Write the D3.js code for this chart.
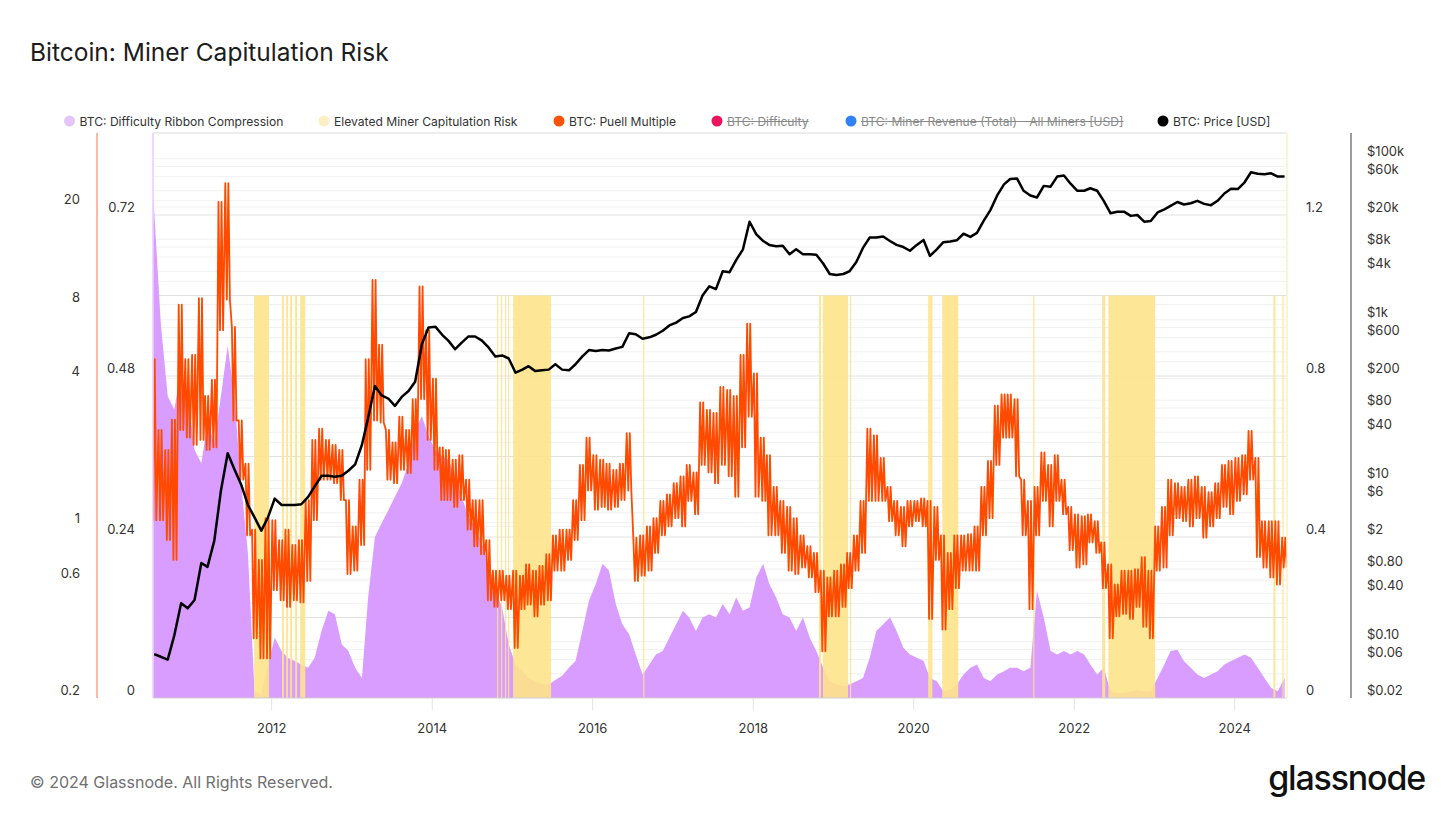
<!DOCTYPE html>
<html><head><meta charset="utf-8">
<script src="https://cdn.jsdelivr.net/npm/d3@7"></script>
<style>
body{margin:0;background:#fff;}
svg{display:block;font-family:Inter,"Noto Sans",sans-serif;}
</style>
</head><body>
<svg id="c" width="1456" height="819"></svg>
<script>
// ---------- DATA (monthly, Jul 2010 .. Aug 2024) ----------
const firstMonth = "2010-07-01";
const lastMonth = "2024-08-01";

const ribbonCompression = [
0.75,0.556,0.45,0.43,0.49,0.45,0.37,0.35,0.41,0.38,
0.45,0.525,0.45,0.32,0.216,0.01,0.005,0.05,0.09,0.07,
0.06,0.055,0.05,0.045,0.06,0.10,0.13,0.125,0.08,0.07,
0.045,0.03,0.15,0.24,0.26,0.28,0.30,0.32,0.35,0.40,
0.42,0.39,0.37,0.36,0.355,0.33,0.30,0.27,0.255,0.23,
0.20,0.16,0.135,0.08,0.05,0.04,0.03,0.025,0.02,0.02,
0.027,0.033,0.045,0.055,0.10,0.145,0.17,0.20,0.19,0.14,
0.11,0.095,0.065,0.035,0.05,0.065,0.07,0.09,0.11,0.13,
0.12,0.10,0.12,0.125,0.12,0.14,0.125,0.15,0.13,0.135,
0.18,0.20,0.17,0.15,0.125,0.12,0.10,0.12,0.09,0.07,
0.045,0.025,0.02,0.018,0.02,0.025,0.03,0.06,0.10,0.11,
0.12,0.10,0.075,0.065,0.06,0.055,0.03,0.025,0.01,0.012,
0.02,0.035,0.045,0.05,0.03,0.025,0.035,0.04,0.045,0.045,
0.04,0.045,0.16,0.12,0.07,0.065,0.07,0.065,0.07,0.065,
0.05,0.035,0.045,0.01,0.008,0.008,0.01,0.012,0.01,0.01,
0.03,0.05,0.07,0.072,0.055,0.045,0.035,0.03,0.035,0.04,
0.05,0.055,0.06,0.065,0.06,0.045,0.03,0.015,0.01,0.03];

// Puell Multiple: monthly high / low of the daily series
const puellHigh = [
4.8,2.47,2.05,2.72,8.0,4.8,5.0,8.5,3.4,3.96,
21,25,6.5,2.7,1.8,0.97,0.73,1.08,1.06,0.88,
0.97,0.84,0.88,1.28,2.25,2.5,2.25,2.15,2.05,1.28,
1.0,1.55,4.8,10.1,5.5,2.47,2.2,2.8,2.47,3.3,
9.5,6.3,4.0,2.1,2.05,1.87,1.95,1.55,1.28,1.28,
0.88,0.66,0.66,0.63,0.66,0.63,0.70,0.66,0.69,0.77,
0.92,0.97,0.97,1.28,1.78,2.3,1.95,1.87,1.8,1.7,
1.8,2.4,0.9,0.92,1.0,1.08,1.27,1.35,1.5,1.6,
1.78,1.66,3.2,2.98,2.9,3.7,3.6,3.4,5.0,6.7,
4.2,2.3,1.95,1.45,1.27,1.2,1.08,0.92,0.83,0.78,
0.66,0.62,0.66,0.7,0.78,0.92,1.27,2.5,2.35,1.9,
1.45,1.27,1.2,1.27,1.27,1.3,1.27,1.2,0.92,0.78,
0.92,0.92,0.93,1.0,1.45,1.85,3.1,3.45,3.45,3.3,
1.55,1.27,1.45,2.0,1.78,1.95,1.55,1.2,1.12,1.1,
1.12,1.05,0.86,0.7,0.58,0.66,0.66,0.67,0.75,0.66,
1.0,1.2,1.55,1.5,1.45,1.55,1.6,1.45,1.38,1.5,
1.78,1.85,1.9,1.95,2.45,1.9,1.05,1.05,1.05,0.9];
const puellLow = [
1.06,1.06,0.88,0.73,2.47,2.3,2.15,2.25,2.05,2.1,
6.3,8.4,2.7,1.55,0.92,0.35,0.29,0.29,0.55,0.50,
0.47,0.50,0.49,0.60,1.06,1.55,1.55,1.5,1.28,0.64,
0.66,0.84,1.7,2.7,2.65,1.55,1.5,1.7,1.65,1.87,
3.3,2.25,1.7,1.28,1.28,1.2,1.28,0.97,0.83,0.77,
0.50,0.47,0.50,0.46,0.32,0.46,0.48,0.43,0.48,0.50,
0.66,0.66,0.73,0.88,1.06,1.4,1.17,1.2,1.17,1.2,
1.28,1.4,0.6,0.63,0.66,0.78,0.92,1.0,1.08,1.0,
1.27,1.12,1.78,1.66,1.5,1.78,1.6,1.32,2.1,2.8,
1.32,1.27,0.92,0.92,0.78,0.66,0.64,0.68,0.62,0.54,
0.31,0.43,0.43,0.47,0.56,0.66,0.78,1.27,1.27,1.27,
1.05,0.92,0.83,1.0,1.05,1.0,0.42,0.73,0.38,0.46,
0.56,0.66,0.66,0.66,0.92,1.08,1.78,2.3,2.3,1.6,
0.92,0.46,0.92,1.27,1.0,1.27,1.12,0.8,0.68,0.7,
0.86,0.78,0.56,0.35,0.43,0.44,0.42,0.47,0.39,0.35,
0.66,0.68,0.92,1.08,1.05,1.0,1.08,0.9,1.0,1.08,
1.2,1.12,1.27,1.35,1.55,0.75,0.68,0.62,0.58,0.68];

const priceUSD = [
0.07,0.065,0.06,0.12,0.30,0.26,0.33,0.95,0.85,1.8,
7.5,22,14,9,5,3.5,2.4,3.5,6.0,5.0,
5.0,5.0,5.1,6.3,8.5,11.5,11.5,11.2,11.5,13.3,
16,28,60,150,115,105,85,110,130,170,
500,800,820,650,550,430,520,620,620,550,
450,350,360,330,220,240,265,230,235,240,
280,240,235,280,350,420,410,420,415,440,
460,680,660,580,605,650,730,850,920,1050,
1100,1250,2000,2600,2400,4000,3900,5500,7500,16500,
11500,9500,8500,8200,8300,6500,7500,6500,6500,6400,
5000,3700,3600,3700,4000,5200,7800,10500,10500,10800,
9500,8500,8000,7200,8500,9800,6200,7500,9200,9400,
9700,11700,10700,12000,17000,23000,35000,48000,56000,57000,
40000,35000,33000,46000,45000,60000,62000,49000,40000,40000,
43000,40000,30000,21000,22000,22000,19500,20000,16500,16800,
21500,23500,26000,29000,27000,28000,30000,27500,26500,30000,
37000,42500,42000,51000,68000,65000,64000,66000,60000,60000];

// Elevated Miner Capitulation Risk periods (flag = 1)
const capStart = ["2011-10-13","2012-02-17","2012-03-07","2012-03-25","2012-04-17","2012-05-10",
  "2014-10-23","2014-11-10","2014-11-28","2014-12-12","2015-01-04","2016-08-18",
  "2018-10-27","2018-11-14","2019-03-17","2020-03-07","2020-05-10","2021-06-28",
  "2022-05-08","2022-06-05","2024-06-25","2024-08-05"];
const capEnd = ["2011-12-20","2012-02-26","2012-03-16","2012-04-03","2012-04-26","2012-06-02",
  "2014-10-27","2014-11-14","2014-12-03","2014-12-16","2015-06-26","2016-08-22",
  "2018-11-05","2019-03-08","2019-03-22","2020-03-26","2020-07-22","2021-07-02",
  "2022-05-22","2023-01-04","2024-07-04","2024-08-09"];

const xTickYears = [2012,2014,2016,2018,2020,2022,2024];
const puellTicks = [0.2,0.6,1,4,8,20];
const ribbonTicks = [0,0.24,0.48,0.72];
const capTicks = [0,0.4,0.8,1.2];
const priceTicks = [0.02,0.06,0.1,0.4,0.8,2,6,10,40,80,200,600,1000,4000,8000,20000,60000,100000];
const priceTickLabels = ["$0.02","$0.06","$0.10","$0.40","$0.80","$2","$6","$10","$40","$80","$200","$600","$1k","$4k","$8k","$20k","$60k","$100k"];

const legendNames = ["BTC: Difficulty Ribbon Compression","Elevated Miner Capitulation Risk","BTC: Puell Multiple","BTC: Difficulty","BTC: Miner Revenue (Total) - All Miners [USD]","BTC: Price [USD]"];
const legendColors = ["#e6c5fb","#fcefc3","#ff5207","#e8175d","#3182f6","#000000"];
const legendHidden = [false,false,false,true,true,false];

// ---------- LAYOUT ----------
const svg = d3.select("#c");
const L = 153, R = 1287, T = 133, B = 698;
const parse = d3.utcParse("%Y-%m-%d");
const months = d3.utcMonth.range(parse(firstMonth), d3.utcMonth.offset(parse(lastMonth),1));

const x = d3.scaleUtc().domain([Date.UTC(2010,6,10), Date.UTC(2024,7,26)]).range([L,R]);
const yPuell = d3.scaleLog().domain([0.2,20]).range([B,207]);
const yRib = d3.scaleLinear().domain([0,0.72]).range([B,215]);
const yCap = d3.scaleLinear().domain([0,1.2]).range([B,215]);
const yPrice = d3.scaleLog().domain([0.02,20000]).range([B,215]);

// title
svg.append("text").attr("x",30).attr("y",61).attr("font-size",24.5).attr("fill","#1c1c1c")
  .text("Bitcoin: Miner Capitulation Risk");

// grid
const g = svg.append("g");
const faint = [];
for (let k=-2;k<=5;k++) [1,3,4,6,8].forEach(m=>{const v=m*Math.pow(10,k); if(v>0.02&&v<180000) faint.push(v);});
g.selectAll(".gf").data(faint).enter().append("line")
  .attr("x1",L).attr("x2",R).attr("y1",d=>yPrice(d)).attr("y2",d=>yPrice(d))
  .attr("stroke","#f1f1f1").attr("stroke-width",1);
g.selectAll(".gp").data(puellTicks.slice(1)).enter().append("line")
  .attr("x1",L).attr("x2",R).attr("y1",d=>yPuell(d)).attr("y2",d=>yPuell(d))
  .attr("stroke","#f1f1f1").attr("stroke-width",1);
const strong = [0.12,0.24,0.36,0.48,0.6,0.72];
g.selectAll(".gs").data(strong).enter().append("line")
  .attr("x1",L).attr("x2",R).attr("y1",d=>yRib(d)).attr("y2",d=>yRib(d))
  .attr("stroke","#e2e2e2").attr("stroke-width",1);
g.append("line").attr("x1",L).attr("x2",R).attr("y1",T).attr("y2",T).attr("stroke","#dcdcdc");

// clip
svg.append("clipPath").attr("id","clip").append("rect").attr("x",L).attr("y",T).attr("width",R-L).attr("height",B-T);
const plot = svg.append("g").attr("clip-path","url(#clip)");

// ribbon area
const ribData = months.map((m,i)=>({d:d3.utcDay.offset(m,14), v:ribbonCompression[i]}));
ribData[0].d = d3.utcDay.offset(months[0],10);
plot.append("path").datum(ribData)
  .attr("d", d3.area().x(d=>x(d.d)).y0(yRib(0)).y1(d=>yRib(d.v)))
  .attr("fill","#d99cff");

// capitulation bands
plot.selectAll(".cap").data(capStart.map((s,i)=>({s:parse(s), e:parse(capEnd[i])}))).enter().append("rect")
  .attr("x",d=>x(d.s)).attr("width",d=>Math.max(1.2,x(d.e)-x(d.s)))
  .attr("y",yCap(1)).attr("height",yCap(0)-yCap(1))
  .attr("fill","#fde38a").attr("opacity",0.9);

// puell line: dense zig-zag between the monthly high and low readings
const puellData = [];
months.forEach((m,i)=>{
  [3,10,17,24].forEach((day,j)=>{
    puellData.push({d:d3.utcDay.offset(m,day), v: j%2===0 ? puellHigh[i] : puellLow[i]});
  });
});
plot.append("path").datum(puellData)
  .attr("d", d3.line().x(d=>x(d.d)).y(d=>yPuell(d.v)))
  .attr("fill","none").attr("stroke","#ff4a00").attr("stroke-width",1.8).attr("stroke-linejoin","round");

// price
const priceData = months.map((m,i)=>({d:d3.utcDay.offset(m,14), v:priceUSD[i]}));
plot.append("path").datum(priceData)
  .attr("d", d3.line().x(d=>x(d.d)).y(d=>yPrice(d.v)))
  .attr("fill","none").attr("stroke","#000").attr("stroke-width",2.5).attr("stroke-linejoin","round");

// bottom axis
svg.append("line").attr("x1",L).attr("x2",R).attr("y1",B).attr("y2",B).attr("stroke","#cfcfcf");
const xt = xTickYears.map(yr=>new Date(Date.UTC(yr,0,1)));
svg.selectAll(".xt").data(xt).enter().append("line")
  .attr("x1",d=>x(d)).attr("x2",d=>x(d)).attr("y1",B).attr("y2",B+12).attr("stroke","#e3e3e3");
svg.selectAll(".xl").data(xt).enter().append("text")
  .attr("x",d=>x(d)).attr("y",728).attr("text-anchor","middle").attr("dominant-baseline","central")
  .attr("font-size",13).attr("fill","#333").text(d=>d.getUTCFullYear());

// vertical axis lines
svg.append("line").attr("x1",97).attr("x2",97).attr("y1",T).attr("y2",B).attr("stroke","#f7a38c").attr("stroke-width",1.5);
svg.append("line").attr("x1",L).attr("x2",L).attr("y1",T).attr("y2",B).attr("stroke","#e8cdfb").attr("stroke-width",1.5);
svg.append("line").attr("x1",R).attr("x2",R).attr("y1",T).attr("y2",B).attr("stroke","#fdf0c6").attr("stroke-width",1.5);
svg.append("line").attr("x1",1351).attr("x2",1351).attr("y1",T).attr("y2",B).attr("stroke","#9c9c9c").attr("stroke-width",2);

// axis labels
const lab = (data, yfn, xpos, anchor, fmt) => svg.selectAll(null).data(data).enter().append("text")
  .attr("x",xpos).attr("y",d=>yfn(d)-8).attr("text-anchor",anchor).attr("dominant-baseline","central")
  .attr("font-size",13).attr("fill","#333").text(fmt);
lab(puellTicks, yPuell, 80, "end", d=>String(d));
lab(ribbonTicks, yRib, 135, "end", d=>String(d));
lab(capTicks, yCap, 1306, "start", d=>String(d));
svg.selectAll(null).data(priceTicks).enter().append("text")
  .attr("x",1367).attr("y",d=>yPrice(d)-8).attr("dominant-baseline","central")
  .attr("font-size",13).attr("fill","#333").text((d,i)=>priceTickLabels[i]);

// legend
const legendX = [69.5,324,559,717,851,1163];
legendNames.forEach((n,i)=>{
  svg.append("circle").attr("cx",legendX[i]).attr("cy",121).attr("r",5.5).attr("fill",legendColors[i]);
  const t = svg.append("text").attr("x",legendX[i]+10).attr("y",121).attr("dominant-baseline","central")
    .attr("font-size",12.1).attr("fill",legendHidden[i]?"#8a8a8a":"#333").text(n);
  if (legendHidden[i]) {
    const w = t.node().getComputedTextLength();
    svg.append("line").attr("x1",legendX[i]+10).attr("x2",legendX[i]+10+w).attr("y1",121.5).attr("y2",121.5)
      .attr("stroke","#8a8a8a").attr("stroke-width",1);
  }
});

// footer
svg.append("text").attr("x",30).attr("y",788).attr("font-size",16).attr("fill","#707070")
  .text("© 2024 Glassnode. All Rights Reserved.");
svg.append("text").attr("x",1425).attr("y",790).attr("text-anchor","end").attr("font-size",34)
  .attr("font-weight",500).attr("letter-spacing",-1.2).attr("fill","#111").text("glassnode");
</script>
</body></html>
